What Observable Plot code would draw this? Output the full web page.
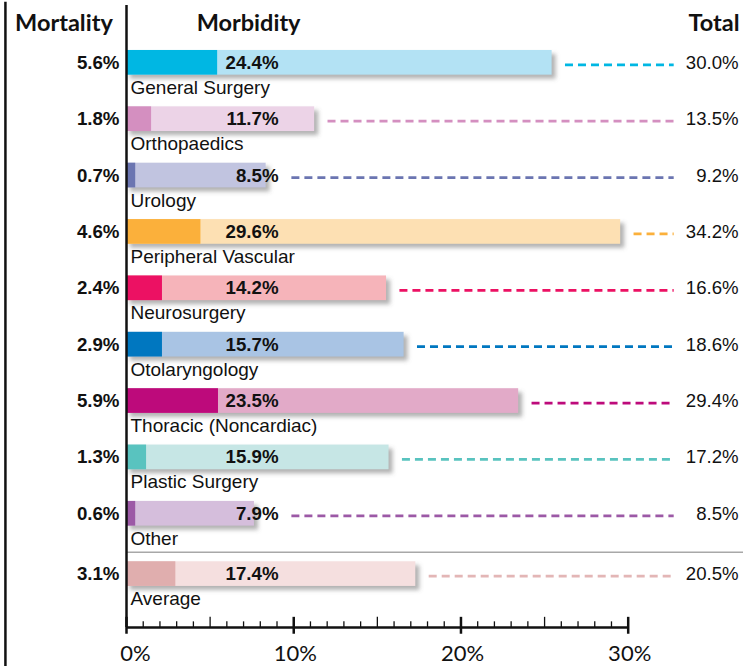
<!DOCTYPE html>
<html>
<head>
<meta charset="utf-8">
<script src="https://cdn.jsdelivr.net/npm/d3@7"></script>
<script src="https://cdn.jsdelivr.net/npm/@observablehq/plot@0.6"></script>
<style>
  html, body { margin: 0; padding: 0; background: #fff; }
  #chart svg { display: block; overflow: visible; }
</style>
</head>
<body>
<div id="chart"></div>
<script>
// ---- data ----
const categories = ["General Surgery", "Orthopaedics", "Urology", "Peripheral Vascular", "Neurosurgery",
  "Otolaryngology", "Thoracic (Noncardiac)", "Plastic Surgery", "Other", "Average"];
const mortality = [5.6, 1.8, 0.7, 4.6, 2.4, 2.9, 5.9, 1.3, 0.6, 3.1];
const morbidity = [24.4, 11.7, 8.5, 29.6, 14.2, 15.7, 23.5, 15.9, 7.9, 17.4];
const total = [30.0, 13.5, 9.2, 34.2, 16.6, 18.6, 29.4, 17.2, 8.5, 20.5];
// bar extents as drawn in the reference artwork (not exactly to scale there)
const mortalityDrawn = [5.45, 1.5, 0.55, 4.45, 2.15, 2.15, 5.5, 1.2, 0.55, 2.95];
const morbidityDrawn = [25.45, 11.25, 8.35, 29.55, 15.55, 16.6, 23.45, 15.7, 7.65, 17.3];
const darkColors = ["#00b7e3", "#d48fc0", "#6b75b1", "#fbb03b", "#ec1163", "#0077c0", "#bd0a7b", "#59c3bf", "#9c59a6", "#e0aeae"];
const lightColors = ["#b3e2f4", "#ecd3e7", "#c1c4e0", "#fde0b3", "#f6b4ba", "#a9c4e4", "#e2aac8", "#c6e6e5", "#d5bedc", "#f5dfdf"];
const dashColors = ["#00b7e3", "#d48fc0", "#6b75b1", "#fbb03b", "#ec1163", "#0077c0", "#bd0a7b", "#59c3bf", "#9c59a6", "#e3b6b6"];
const headers = ["Mortality", "Morbidity", "Total"];
const xTicks = [0, 10, 20, 30];

// ---- layout (row units on y, percent units on x) ----
const rowPos = categories.map((c, i) => i + (c === "Average" ? 0.07 : 0));
const AXIS_Y = 10.342;
const LABEL_X = 9.09;      // right edge of in-bar morbidity labels
const DASH_END = 32.75;
const TOTAL_X = 36.6;

const rows = categories.map((c, i) => ({
  c, p: rowPos[i], mort: mortality[i], morb: morbidity[i], tot: total[i],
  mortEnd: mortalityDrawn[i], barEnd: morbidityDrawn[i],
  dark: darkColors[i], light: lightColors[i], dash: dashColors[i]
}));

const SANS = "'Liberation Sans', Arial, sans-serif";
const GEO = "Lato, sans-serif";

const chart = Plot.plot({
  width: 743,
  height: 666,
  marginLeft: 126,
  marginRight: 115.3,
  marginTop: 44,
  marginBottom: 58,
  x: { domain: [0, 30], range: [126, 627.7], axis: null },
  y: { type: "linear", domain: [0, 10], range: [44, 607.7], axis: null },
  color: { type: "identity" },
  marks: [
    // left frame line
    Plot.ruleX([-7.24], { y1: -0.75, y2: 11.1, stroke: "#111", strokeWidth: 2.5 }),
    // bar shadows
    Plot.rectX(rows, { x1: 0, x2: d => d.barEnd, y1: d => d.p + 0.106, y2: d => d.p + 0.544,
      fill: "#666", fillOpacity: 0.5, dx: 4, dy: 4 }),
    // morbidity (light) bars
    Plot.rectX(rows, { x1: 0, x2: d => d.barEnd, y1: d => d.p + 0.106, y2: d => d.p + 0.544, fill: d => d.light }),
    // mortality (dark) bars
    Plot.rectX(rows, { x1: 0, x2: d => d.mortEnd, y1: d => d.p + 0.106, y2: d => d.p + 0.544, fill: d => d.dark }),
    // dashed leaders to totals
    Plot.ruleY(rows, { y: d => d.p + 0.361, x1: d => Math.max(d.barEnd, LABEL_X) + 0.8, x2: DASH_END,
      stroke: d => d.dash, strokeWidth: 2.8, strokeDasharray: "8,5" }),
    // separator above Average
    Plot.ruleY([9.006], { x1: 0, x2: 36.9, stroke: "#a8a8a8", strokeWidth: 1.5 }),
    // morbidity labels
    Plot.text(rows, { x: LABEL_X, y: d => d.p + 0.431, text: d => d.morb.toFixed(1) + "%",
      textAnchor: "end", lineAnchor: "bottom", fontFamily: SANS, fontWeight: "bold", fontSize: 18.7, fill: "#111" }),
    // mortality labels
    Plot.text(rows, { x: 0, dx: -7, y: d => d.p + 0.431, text: d => d.mort.toFixed(1) + "%",
      textAnchor: "end", lineAnchor: "bottom", fontFamily: SANS, fontWeight: "bold", fontSize: 18.7, fill: "#111" }),
    // total labels
    Plot.text(rows, { x: TOTAL_X, y: d => d.p + 0.431, text: d => d.tot.toFixed(1) + "%",
      textAnchor: "end", lineAnchor: "bottom", fontFamily: SANS, fontSize: 18.6, fill: "#111" }),
    // category labels
    Plot.text(rows, { x: 0, dx: 4, y: d => d.p + 0.874, text: "c",
      textAnchor: "start", lineAnchor: "bottom", fontFamily: SANS, fontSize: 19, fill: "#111" }),
    // headers
    Plot.text([headers[0]], { x: -3.74, y: -0.231, text: d => d, textAnchor: "middle", lineAnchor: "bottom",
      fontFamily: GEO, fontWeight: 700, fontSize: 23.5, fill: "#111" }),
    Plot.text([headers[1]], { x: 7.3, y: -0.231, text: d => d, textAnchor: "middle", lineAnchor: "bottom",
      fontFamily: GEO, fontWeight: 700, fontSize: 23.5, fill: "#111" }),
    Plot.text([headers[2]], { x: 36.66, y: -0.231, text: d => d, textAnchor: "end", lineAnchor: "bottom",
      fontFamily: GEO, fontWeight: 700, fontSize: 23.5, fill: "#111" }),
    // vertical axis line
    Plot.ruleX([0], { y1: -0.692, y2: AXIS_Y, stroke: "#111", strokeWidth: 2.5 }),
    // x axis baseline
    Plot.ruleY([AXIS_Y], { x1: 0, x2: 30, stroke: "#111", strokeWidth: 2.5 }),
    // minor ticks
    Plot.ruleX(d3.range(1, 30).filter(d => d % 5 !== 0), { y1: AXIS_Y - 0.1, y2: AXIS_Y, stroke: "#111", strokeWidth: 1.3 }),
    Plot.ruleX([5, 15, 25], { y1: AXIS_Y - 0.18, y2: AXIS_Y, stroke: "#111", strokeWidth: 1.3 }),
    // major ticks
    Plot.ruleX(xTicks, { y1: AXIS_Y - 0.18, y2: AXIS_Y + 0.12, stroke: "#111", strokeWidth: 2.5 }),
    // tick labels
    Plot.text(xTicks.filter(d => d === 0), { x: d => d, dx: 9, y: 10.928, text: d => d + "%",
      textAnchor: "middle", lineAnchor: "bottom", fontFamily: GEO, fontSize: 22, fill: "#111" }),
    Plot.text(xTicks.filter(d => d !== 0), { x: d => d, dx: 1.5, y: 10.928, text: d => d + "%",
      textAnchor: "middle", lineAnchor: "bottom", fontFamily: GEO, fontSize: 22, fill: "#111" })
  ]
});

// soften the shadow
const svgNS = "http://www.w3.org/2000/svg";
const defs = document.createElementNS(svgNS, "defs");
const filt = document.createElementNS(svgNS, "filter");
filt.setAttribute("id", "barShadow");
filt.setAttribute("x", "-5%"); filt.setAttribute("y", "-5%");
filt.setAttribute("width", "110%"); filt.setAttribute("height", "110%");
const blur = document.createElementNS(svgNS, "feGaussianBlur");
blur.setAttribute("stdDeviation", "2");
filt.appendChild(blur);
defs.appendChild(filt);
chart.insertBefore(defs, chart.firstChild);
const rectGroups = chart.querySelectorAll('g[aria-label="rect"]');
if (rectGroups.length) rectGroups[0].setAttribute("filter", "url(#barShadow)");

document.getElementById("chart").appendChild(chart);
</script>
</body>
</html>
